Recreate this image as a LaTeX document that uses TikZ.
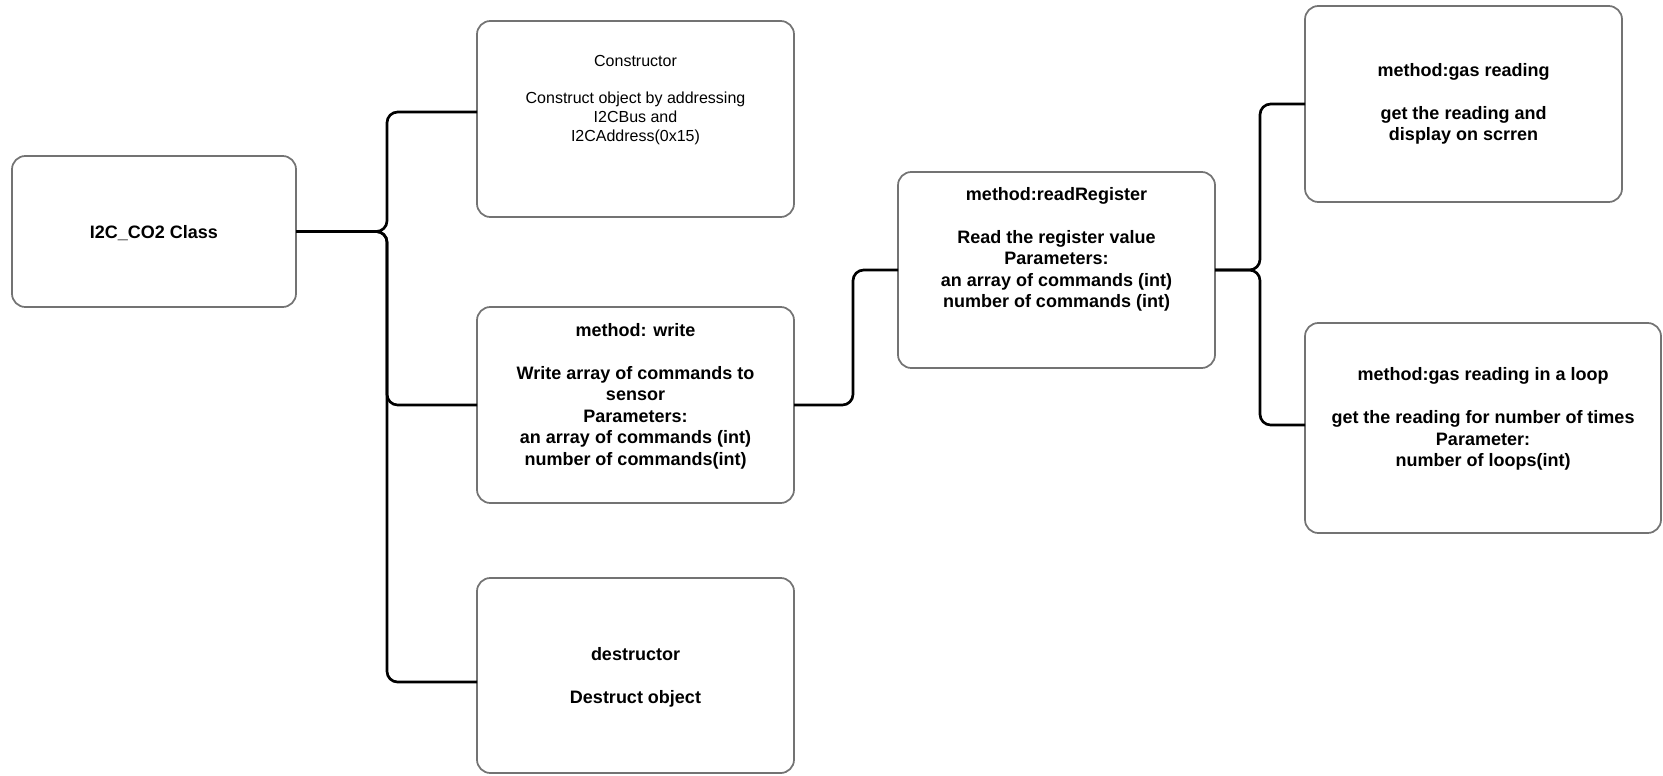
\documentclass[tikz,border=0pt]{standalone}
\usepackage{fontspec}
\setmainfont{Liberation Sans}
\usetikzlibrary{calc}

\tikzset{
  card/.style 2 args={draw=black!55, line width=1.3pt, rounded corners=10pt,
    fill=white, inner sep=0pt, outer sep=0pt,
    minimum width=#1*0.75pt, minimum height=#2*0.75pt},
  label text/.style={align=center, inner sep=0pt,
    font=\bfseries\fontsize{13.5}{16.1}\selectfont},
  plain text/.style={align=center, inner sep=0pt,
    font=\fontsize{12}{13.9}\selectfont},
  wire/.style={draw=black, line width=2pt, rounded corners=8pt}
}

\begin{document}
\begin{tikzpicture}[x=0.75pt, y=-0.75pt]
\useasboundingbox (0,0) rectangle (1663,775);

% class and its members
\node[card={284}{151}] (root)  at (154,231.5) {};
\node[card={317}{196}] (ctor)  at (635.5,119) {};
\node[card={317}{196}] (write) at (635.5,405) {};
\node[card={317}{195}] (dtor)  at (635.5,675.5) {};
\node[card={317}{196}] (rreg)  at (1056.5,270) {};
\node[card={317}{196}] (gas)   at (1463.5,104) {};
\node[card={356}{210}] (loop)  at (1483,428) {};

% texts
\node[label text] (t-root) at (154,233) {I2C\_CO2 Class};
\node[plain text] (t-ctor) at (635.5,100) {Constructor\\[13.9pt]
  Construct object by addressing\\ I2CBus and\\ I2CAddress(0x15)};
\node[label text] (t-write) at (635.5,396) {method: write\\[16.1pt]
  Write array of commands to\\ sensor\\ Parameters:\\
  an array of commands (int)\\ number of commands(int)};
\node[label text] (t-dtor) at (635.5,677) {destructor\\[16.1pt] Destruct object};
\node[label text] (t-rreg) at (1056.5,249.5) {method:readRegister\\[16.1pt]
  Read the register value\\ Parameters:\\
  an array of commands (int)\\ number of commands (int)};
\node[label text] (t-gas) at (1463.5,104) {method:gas reading\\[16.1pt]
  get the reading and\\ display on scrren};
\node[label text] (t-loop) at (1483,419) {method:gas reading in a loop\\[16.1pt]
  get the reading for number of times\\ Parameter:\\ number of loops(int)};

% connectors
\draw[wire] (root.east) -- ++(91,0) |- ([yshift=5.25pt]ctor.west);
\draw[wire] (root.east) -- ++(91,0) |- (write.west);
\draw[wire] (root.east) -- ++(91,0) |- ([yshift=-4.9pt]dtor.west);
\draw[wire] (write.east) -- ++(59,0) |- (rreg.west);
\draw[wire] (rreg.east) -- ++(45,0) |- (gas.west);
\draw[wire] (rreg.east) -- ++(45,0) |- ([yshift=2.25pt]loop.west);
\end{tikzpicture}
\end{document}
